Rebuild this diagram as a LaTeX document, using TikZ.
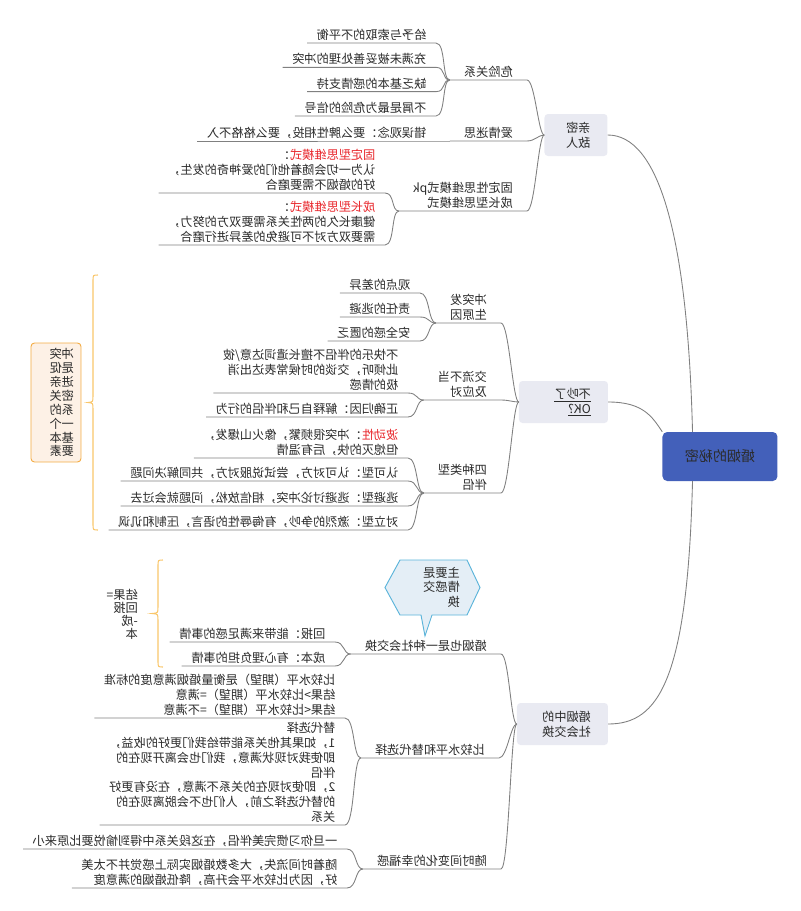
\documentclass[tikz,border=0pt]{standalone}
\usepackage{fontspec}
\setmainfont{Noto Sans CJK SC}

\definecolor{rootblue}{HTML}{4360BA}
\definecolor{topicgray}{HTML}{E9EAF2}
\definecolor{linegray}{HTML}{808080}
\definecolor{textdark}{HTML}{2B2B2B}
\definecolor{redtext}{HTML}{E8262B}
\definecolor{braceorange}{HTML}{F9C66A}
\definecolor{notefill}{HTML}{FDF1E6}
\definecolor{noteline}{HTML}{F3AC45}
\definecolor{calloutfill}{HTML}{E4EEF6}
\definecolor{calloutline}{HTML}{5BB4DA}

\begin{document}
\begin{tikzpicture}[xscale=-1, x=0.03cm, y=-0.03cm, transform shape]

\useasboundingbox (0,0) rectangle (800,911);

\tikzstyle{every node}=[font=\fontsize{10.4}{12.6}\selectfont, text=textdark];
\tikzstyle{rootbox}=[fill=rootblue, rounded corners=4pt, minimum width=3.45cm, minimum height=1.47cm, font=\fontsize{12}{14}\selectfont];
\tikzstyle{topic}=[fill=topicgray, rounded corners=3pt, align=left, inner xsep=0.51cm, minimum height=1.26cm];
\tikzstyle{sub}=[anchor=south west, align=left, inner xsep=0.42cm, inner ysep=2pt];
\tikzstyle{leaf}=[anchor=south west, align=left, inner xsep=8pt, inner ysep=2pt];
\tikzstyle{link}=[draw=linegray, line width=0.75pt];
\tikzstyle{curly}=[draw=braceorange, line width=0.9pt];

% Draw the root and the three main topics
\node[rootbox] (root) at (80,456.5) {婚姻的秘密};
\node[topic, text width=0.87cm] (t1) at (224,135) {亲密\\敌人};
\node[topic, text width=1.65cm] (t2) at (236.5,402) {\underline{不吵了}\\\underline{OK?}};
\node[topic, text width=1.71cm] (t3) at (237.5,724) {婚姻中的\\社会交换};

\draw[link] (root.42) .. controls +(5,-200) and +(-50,0) .. (t1.west);
\draw[link] (root.north east) .. controls +(10,-15) and +(-35,0) .. (t2.west);
\draw[link] (root.-42) .. controls +(5,200) and +(-50,0) .. (t3.west);

% Sub topics
\node[sub] (n11) at (273,80) {危险关系};
\node[sub] (n12) at (273,141) {爱情迷思};
\node[sub] (n13) at (273,211) {固定性思维模式pk\\成长型思维模式};
\node[sub] (n21) at (299,323) {冲突发\\生原因};
\node[sub] (n22) at (299,400) {交流不当\\及应对};
\node[sub] (n23) at (299,493) {四种类型\\伴侣};
\node[sub] (n31) at (299,654) {婚姻也是一种社会交换};
\node[sub] (n32) at (301,758) {比较水平和替代选择};
\node[sub] (n33) at (299,869) {随时间变化的幸福感};

\foreach \i in {1,2,3}
  \draw[link] (t1.east) .. controls +(6,0) and +(-8,0) .. (n1\i.south west) -- (n1\i.south east);
\foreach \i in {1,2,3}
  \draw[link] (t2.east) .. controls +(6,0) and +(-8,0) .. (n2\i.south west) -- (n2\i.south east);
\foreach \i in {1,2,3}
  \draw[link] (t3.east) .. controls +(6,0) and +(-8,0) .. (n3\i.south west) -- (n3\i.south east);

% Leaves of the first topic
\foreach \txt [count=\i] in {给予与索取的不平衡,充满未被妥善处理的冲突,缺乏基本的感情支持,不屑是最为危险的信号}
{
  \node[leaf] (a\i) at (364,{43+(\i-1)*24.33}) {\txt};
  \draw[link] (n11.south east) .. controls +(8,0) and +(-10,0) .. (a\i.south west) -- (a\i.south east);
}
\node[leaf] (b1) at (364,141) {错误观念：要么脾性相投，要么格格不入};
\node[leaf] (c1) at (415,193) {\textcolor{redtext}{固定型思维模式}：\\认为一切会随着他们的爱神奇的发生，\\好的婚姻不需要磨合};
\node[leaf] (c2) at (415,245) {\textcolor{redtext}{成长型思维模式}：\\健康长久的两性关系需要双方的努力，\\需要双方对不可避免的差异进行磨合};
\draw[link] (n12.south east) -- (b1.south west) -- (b1.south east);
\foreach \i in {1,2}
  \draw[link] (n13.south east) .. controls +(8,0) and +(-10,0) .. (c\i.south west) -- (c\i.south east);

% Leaves of the second topic
\foreach \txt [count=\i] in {观点的差异,责任的逃避,安全感的匮乏}
{
  \node[leaf] (d\i) at (380,{293+(\i-1)*24}) {\txt};
  \draw[link] (n21.south east) .. controls +(8,0) and +(-10,0) .. (d\i.south west) -- (d\i.south east);
}
\node[leaf] (e1) at (392,393) {不快乐的伴侣不擅长遣词达意/彼\\此倾听，交谈的时候常表达出消\\极的情感};
\node[leaf] (e2) at (392,417) {正确归因：解释自己和伴侣的行为};
\foreach \i in {1,2}
  \draw[link] (n22.south east) .. controls +(8,0) and +(-10,0) .. (e\i.south west) -- (e\i.south east);
\node[leaf] (g1) at (392,458) {\textcolor{redtext}{波动性}：冲突很频繁，像火山爆发，\\但熄灭的快，后有温情};
\node[leaf] (g2) at (392,481) {认可型：认可对方，尝试说服对方，共同解决问题};
\node[leaf] (g3) at (392,506) {逃避型：逃避讨论冲突，相信放松，问题就会过去};
\node[leaf] (g4) at (392,530) {对立型：激烈的争吵，有侮辱性的语言，压制和讥讽};
\foreach \i in {1,...,4}
  \draw[link] (n23.south east) .. controls +(8,0) and +(-10,0) .. (g\i.south west) -- (g\i.south east);

% Brace and note for the second topic
\draw[curly] (702,275) .. controls (707,275) .. (707,281) -- (707,396)
  .. controls (707,402) .. (712,402.5) .. controls (707,403) .. (707,409) -- (707,524)
  .. controls (707,530) .. (702,530);
\node[draw=noteline, fill=notefill, rounded corners=3pt, line width=0.8pt, align=left,
  text width=1.08cm, inner xsep=0.21cm, minimum height=3.57cm,
  font=\fontsize{10.4}{11.9}\selectfont] (note) at (744,402.5)
  {冲突\\是促\\进亲\\密关\\系的\\一个\\基本\\要素};

% Leaves of the third topic
\node[leaf] (h1) at (465,642) {回报：能带来满足感的事情};
\node[leaf] (h2) at (465,666) {成本：有心理负担的事情};
\foreach \i in {1,2}
  \draw[link] (n31.south east) .. controls +(8,0) and +(-10,0) .. (h\i.south west) -- (h\i.south east);
\node[leaf] (k1) at (455,718) {比较水平（期望）是衡量婚姻满意度的标准\\结果>比较水平（期望）=满意\\结果<比较水平（期望）=不满意};
\node[leaf] (k2) at (455,825) {替代选择\\1，如果其他关系能带给我们更好的收益，\\即使我对现状满意，我们也会离开现在的\\伴侣\\2，即使对现在的关系不满意，在没有更好\\的替代选择之前，人们也不会脱离现在的\\关系};
\foreach \i in {1,2}
  \draw[link] (n32.south east) .. controls +(8,0) and +(-10,0) .. (k\i.south west) -- (k\i.south east);
\node[leaf] (m1) at (453,849) {一旦你习惯完美伴侣，在这段关系中得到愉悦要比原来小};
\node[leaf] (m2) at (453,888) {随着时间流失，大多数婚姻实际上感觉并不太美\\好，因为比较水平会升高，降低婚姻的满意度};
\foreach \i in {1,2}
  \draw[link] (n33.south east) .. controls +(8,0) and +(-10,0) .. (m\i.south west) -- (m\i.south east);

% Callout over the social exchange topic
\draw[fill=calloutfill, draw=calloutline, line width=0.8pt] (333,560) -- (400,560) -- (415,587.5)
  -- (400,615) -- (379,615) -- (375,636) -- (368,615) -- (333,615) -- (320,587.5) -- cycle;
\node[anchor=north west, align=left, inner sep=0pt, font=\fontsize{10.4}{12.3}\selectfont] (gist) at (340,567) {主要是\\情感交\\换};

% Brace with the result formula
\draw[curly] (637,560) .. controls (642,560) .. (642,566) -- (642,607)
  .. controls (642,613) .. (648,613.5) .. controls (642,614) .. (642,620) -- (642,661)
  .. controls (642,667) .. (637,667);
\node[anchor=west, align=left, inner sep=0pt, font=\fontsize{10.4}{11.1}\selectfont] (result) at (662,614) {结果=\\回报\\-成\\本};

\end{tikzpicture}
\end{document}
